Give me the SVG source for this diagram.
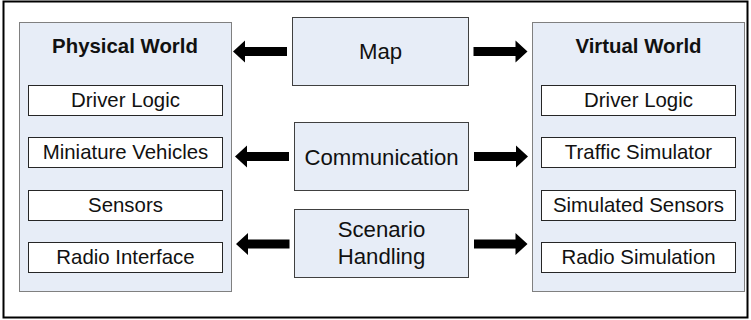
<svg xmlns="http://www.w3.org/2000/svg" width="751" height="320" viewBox="0 0 751 320">
<style>
.frame{fill:#fff;stroke:#000;stroke-width:2}
.panel{fill:#e7edf7;stroke:#808080;stroke-width:1}
.item{fill:#fff;stroke:#262626;stroke-width:1}
.mid{fill:#e7edf7;stroke:#404040;stroke-width:1}
.t{font-family:"Liberation Sans",Arial,sans-serif;fill:#111;text-anchor:middle}
.s{font-size:20.4px}
.m{font-size:22.2px}
.b{font-size:20.4px;font-weight:bold}
.arr{fill:#000}
</style>
<rect class="frame" x="3.5" y="1.5" width="744" height="316"/>
<g id="physical-world">
<rect class="panel" x="19.5" y="22.5" width="212" height="269"/>
<text class="t b" x="125" y="53">Physical World</text>
<rect class="item" x="28.5" y="85.5" width="194" height="30"/>
<text class="t s" x="125.5" y="107">Driver Logic</text>
<rect class="item" x="28.5" y="137.5" width="194" height="30"/>
<text class="t s" x="125.5" y="159">Miniature Vehicles</text>
<rect class="item" x="28.5" y="190.5" width="194" height="30"/>
<text class="t s" x="125.5" y="212">Sensors</text>
<rect class="item" x="28.5" y="242.5" width="194" height="30"/>
<text class="t s" x="125.5" y="264">Radio Interface</text>
</g>
<g id="virtual-world">
<rect class="panel" x="532.5" y="22.5" width="212" height="269"/>
<text class="t b" x="638.5" y="53">Virtual World</text>
<rect class="item" x="541.5" y="85.5" width="194" height="30"/>
<text class="t s" x="638.5" y="107">Driver Logic</text>
<rect class="item" x="541.5" y="137.5" width="194" height="30"/>
<text class="t s" x="638.5" y="159">Traffic Simulator</text>
<rect class="item" x="541.5" y="190.5" width="194" height="30"/>
<text class="t s" x="638.5" y="212">Simulated Sensors</text>
<rect class="item" x="541.5" y="242.5" width="194" height="30"/>
<text class="t s" x="638.5" y="264">Radio Simulation</text>
</g>
<g id="map">
<rect class="mid" x="292.5" y="17.5" width="176" height="68"/>
<text class="t m" x="380.5" y="58.5">Map</text>
</g>
<g id="communication">
<rect class="mid" x="294.5" y="122.5" width="174" height="68"/>
<text class="t m" x="381.5" y="165">Communication</text>
</g>
<g id="scenario-handling">
<rect class="mid" x="294.5" y="209.5" width="174" height="68"/>
<text class="t m" x="381.5" y="237">Scenario</text>
<text class="t m" x="381.5" y="264">Handling</text>
</g>
<g id="connectors">
<path class="arr" d="M233,51.5 L245,40.5 L245,47 L287,47 L287,56 L245,56 L245,62.5 Z"/>
<path class="arr" d="M527.5,51.5 L515.5,40.5 L515.5,47 L473.5,47 L473.5,56 L515.5,56 L515.5,62.5 Z"/>
<path class="arr" d="M235,156.5 L247,145.5 L247,152 L289,152 L289,161 L247,161 L247,167.5 Z"/>
<path class="arr" d="M528,156.5 L516,145.5 L516,152 L474,152 L474,161 L516,161 L516,167.5 Z"/>
<path class="arr" d="M236,244 L248,233 L248,239.5 L289.5,239.5 L289.5,248.5 L248,248.5 L248,255 Z"/>
<path class="arr" d="M527.5,244 L515.5,233 L515.5,239.5 L474,239.5 L474,248.5 L515.5,248.5 L515.5,255 Z"/>
</g>
</svg>
